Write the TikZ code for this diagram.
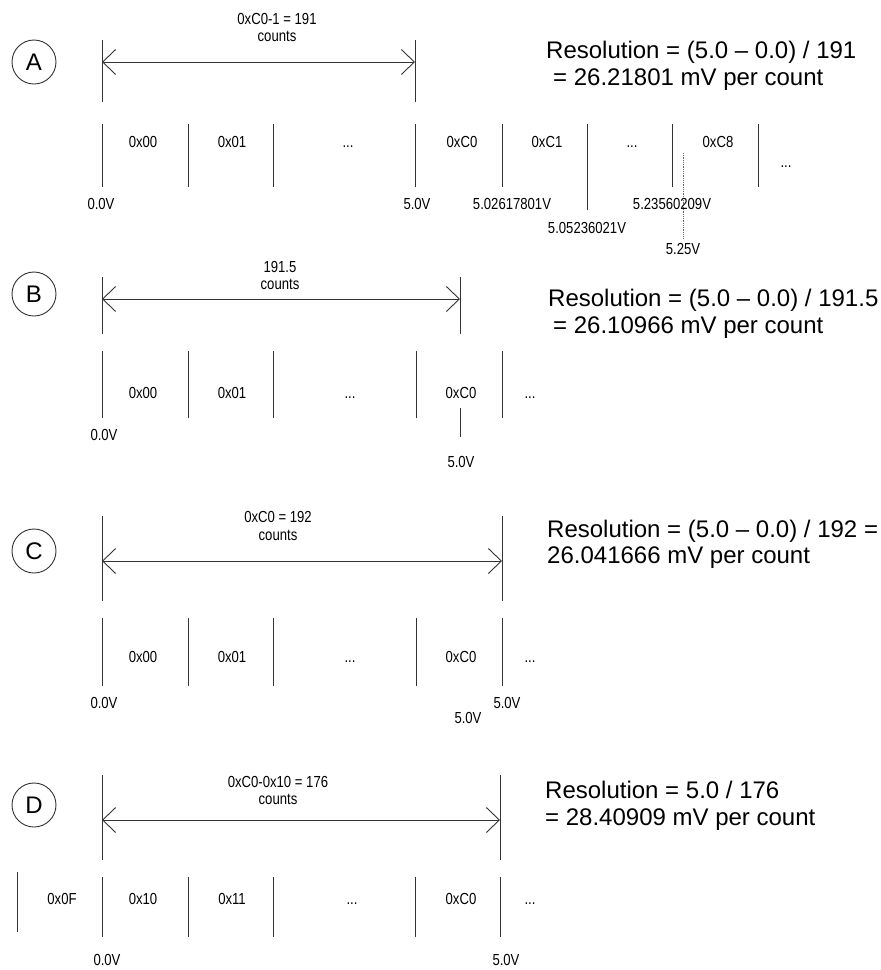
\documentclass[tikz,border=0pt]{standalone}
\usepackage{fontspec}
\setmainfont{Liberation Sans}
\newfontfamily\labelfont[FakeStretch=0.82]{Liberation Sans}
\usetikzlibrary{arrows.meta}
% vertical tick mark: x, top y, bottom y
\newcommand\vtick[3]{\draw[tickline] (#1,#2) -- (#1,#3);}
\begin{document}
\begin{tikzpicture}[x=1pt,y=-1pt,
  tickline/.style={draw=black!80, line width=0.9pt},
  barb/.tip={Straight Barb[length=13pt,width=25pt,line width=0.9pt]},
  dim/.style={draw=black!80, line width=0.9pt, barb-barb},
  lbl/.style={font=\labelfont\fontsize{16}{18}\selectfont, inner sep=0pt, anchor=base},
  res/.style={font=\fontsize{24}{27}\selectfont, inner sep=0pt, anchor=base west},
  badge/.style={circle, draw=black!80, line width=0.9pt, minimum size=44pt, inner sep=0pt, font=\fontsize{24}{27}\selectfont},
  guide/.style={draw=black!60, line width=0.8pt, densely dotted}]
\useasboundingbox (0,0) rectangle (881,970);

% ---------------- A ----------------
\node[badge] (cA) at (34,62) {A};
\vtick{102}{40}{102}
\vtick{415}{40}{102}
\coordinate (aL) at (102,62);
\coordinate (aR) at (415,62);
\draw[dim] (aL) -- (aR);
\node[lbl] (tA1) at (277,24) {0xC0-1 = 191};
\node[lbl] (tA2) at (277,41) {counts};
\foreach \x in {102,188,273,415,502,672,758} {\vtick{\x}{124}{187}}
\vtick{587}{124}{210}
\node[lbl] (a00) at (143,147) {0x00};
\node[lbl] (a01) at (232,147) {0x01};
\node[lbl] (aD1) at (348,147) {...};
\node[lbl] (aC0) at (462,147) {0xC0};
\node[lbl] (aC1) at (547,147) {0xC1};
\node[lbl] (aD2) at (632,147) {...};
\node[lbl] (aC8) at (718,147) {0xC8};
\node[lbl] (aD3) at (786,167) {...};
\draw[guide] (683,153) -- (683,238);
\node[lbl] (aV0) at (101,209) {0.0V};
\node[lbl] (aV5) at (417,209) {5.0V};
\node[lbl] (aV1) at (512,209) {5.02617801V};
\node[lbl] (aV2) at (587,233) {5.05236021V};
\node[lbl] (aV3) at (672,209) {5.23560209V};
\node[lbl] (aV4) at (683,254) {5.25V};
\node[res] (rA1) at (546,58.5) {Resolution = (5.0 \textendash{} 0.0) / 191};
\node[res] (rA2) at (553,85.5) {= 26.21801 mV per count};

% ---------------- B ----------------
\node[badge] (cB) at (34,294) {B};
\vtick{102}{277}{334}
\vtick{460}{277}{334}
\coordinate (bL) at (102,299);
\coordinate (bR) at (460,299);
\draw[dim] (bL) -- (bR);
\node[lbl] (tB1) at (280,272) {191.5};
\node[lbl] (tB2) at (280,289) {counts};
\foreach \x in {102,188,273,416,502} {\vtick{\x}{351}{418}}
\vtick{460}{408}{437}
\node[lbl] (b00) at (143,398) {0x00};
\node[lbl] (b01) at (232,398) {0x01};
\node[lbl] (bD1) at (350,398) {...};
\node[lbl] (bC0) at (461,398) {0xC0};
\node[lbl] (bD2) at (530,398) {...};
\node[lbl] (bV0) at (104,440) {0.0V};
\node[lbl] (bV5) at (461,467.5) {5.0V};
\node[res] (rB1) at (548,306.5) {Resolution = (5.0 \textendash{} 0.0) / 191.5};
\node[res] (rB2) at (553,333.5) {= 26.10966 mV per count};

% ---------------- C ----------------
\node[badge] (cC) at (34,551) {C};
\vtick{102}{516}{601}
\vtick{502}{516}{601}
\coordinate (cL) at (102,561);
\coordinate (cR) at (502,561);
\draw[dim] (cL) -- (cR);
\node[lbl] (tC1) at (278,522) {0xC0 = 192};
\node[lbl] (tC2) at (278,540.5) {counts};
\foreach \x in {102,188,273,416,502} {\vtick{\x}{618}{686}}
\node[lbl] (c00) at (143,662.5) {0x00};
\node[lbl] (c01) at (232,662.5) {0x01};
\node[lbl] (cD1) at (350,662.5) {...};
\node[lbl] (cC0) at (461,662.5) {0xC0};
\node[lbl] (cD2) at (530,662.5) {...};
\node[lbl] (cV0) at (104,708.5) {0.0V};
\node[lbl] (cV5) at (507,708.5) {5.0V};
\node[lbl] (cV6) at (468,723) {5.0V};
\node[res] (rC1) at (547,537.5) {Resolution = (5.0 \textendash{} 0.0) / 192 =};
\node[res] (rC2) at (547,563.5) {26.041666 mV per count};

% ---------------- D ----------------
\node[badge] (cD) at (34,805) {D};
\vtick{102}{775}{860}
\vtick{500}{775}{860}
\coordinate (dL) at (102,820);
\coordinate (dR) at (500,820);
\draw[dim] (dL) -- (dR);
\node[lbl] (tD1) at (278,787.5) {0xC0-0x10 = 176};
\node[lbl] (tD2) at (278,804.5) {counts};
\vtick{17}{872}{932}
\foreach \x in {102,188,273,415,500} {\vtick{\x}{877}{937}}
\node[lbl] (d0F) at (62,904) {0x0F};
\node[lbl] (d10) at (143,904) {0x10};
\node[lbl] (d11) at (232,904) {0x11};
\node[lbl] (dD1) at (352,904) {...};
\node[lbl] (dC0) at (461,904) {0xC0};
\node[lbl] (dD2) at (530,904) {...};
\node[lbl] (dV0) at (107,965.5) {0.0V};
\node[lbl] (dV5) at (506,965.5) {5.0V};
\node[res] (rD1) at (545,798.5) {Resolution = 5.0 / 176};
\node[res] (rD2) at (545,825.5) {= 28.40909 mV per count};
\end{tikzpicture}
\end{document}
